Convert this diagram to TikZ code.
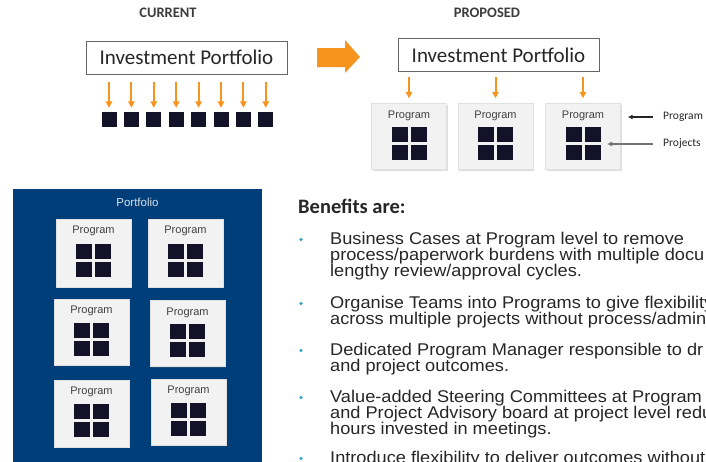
\documentclass[tikz,border=0pt]{standalone}
\usepackage{fontspec}
\setmainfont{Liberation Sans}
\newfontfamily\calfont{Carlito}
\newfontfamily\bodyfont[FakeStretch=1.07]{Liberation Sans}
\usepackage{xcolor}
\usetikzlibrary{arrows.meta,positioning,calc,shadows}
\definecolor{orArrow}{RGB}{247,148,29}
\definecolor{projNavy}{RGB}{20,18,40}
\definecolor{cardGray}{RGB}{242,242,242}
\definecolor{panelBlue}{RGB}{0,62,122}
\definecolor{dotBlue}{RGB}{70,168,208}
\definecolor{txtGray}{RGB}{38,38,38}

\begin{document}
\begin{tikzpicture}[x=1pt,y=-1pt,
title/.style={font=\calfont\bfseries\fontsize{14.5}{16}\selectfont,text=txtGray!90},
portbox/.style={draw=black!60,line width=0.8pt,minimum width=201pt,minimum height=33pt,font=\calfont\fontsize{21}{24}\selectfont,text=txtGray},
proj/.style={fill=projNavy,minimum width=16pt,minimum height=15pt,inner sep=0pt},
card/.style={fill=cardGray,draw=black!12,minimum width=75pt,minimum height=66pt,inner sep=0pt,drop shadow={opacity=0.25,shadow xshift=1pt,shadow yshift=-1.2pt}},
cardlbl/.style={font=\fontsize{11}{13}\selectfont,text=black!75,inner sep=0pt},
orarr/.style={-{Triangle[length=6.5pt,width=6.5pt]},orArrow,line width=2pt},
sidearr/.style={-{Latex[length=5pt,width=5pt]},line width=1.3pt},
sidelbl/.style={font=\calfont\fontsize{11.5}{13}\selectfont,text=txtGray,inner sep=0pt,anchor=west},
bullet/.style={align=left,anchor=north west,inner sep=0pt,text=txtGray,font=\bodyfont\fontsize{17}{16}\selectfont}
]
\useasboundingbox (0,0) rectangle (706,461);
\clip (0,0) rectangle (706,461);

% current
\node[title] (curtitle) at (168,13) {CURRENT};
\node[portbox] (curport) at (186.5,57.5) {Investment Portfolio};
\foreach \i in {0,...,7}{
  \node[proj,minimum width=15pt] (cp\i) at (109+22.4*\i,119.5) {};
  \draw[orarr] ([yshift=-8pt]curport.south -| cp\i) -- ([yshift=4pt]cp\i.north);
}

% big arrow
\fill[orArrow] (317,48) -- (345,48) -- (345,40) -- (360,57) -- (345,73) -- (345,67) -- (317,67) -- cycle;

% proposed
\node[title] (protitle) at (487,13) {PROPOSED};
\node[portbox] (proport) at (498.5,55) {Investment Portfolio};
\node[card] (pp1) at (409,136.5) {};
\node[card] (pp2) at (495.5,136.5) {};
\node[card] (pp3) at (583,136.5) {};
\foreach \c in {pp1,pp2,pp3}
  \draw[orarr] ([yshift=-5pt]proport.south -| \c) -- ([yshift=5pt]\c.north);

% portfolio panel
\fill[panelBlue] (13,189) rectangle (262,470);
\node[font=\fontsize{11.5}{13}\selectfont,text=white!85!panelBlue] (panellbl) at (137.5,202) {Portfolio};
\node[card,minimum height=68pt] (pa) at (93.5,253) {};
\node[card,minimum height=68pt] (pb) at (185.5,253) {};
\node[card] (pc) at (91.5,332) {};
\node[card] (pd) at (187.5,333.5) {};
\node[card,minimum height=67pt] (pe) at (91.5,413.5) {};
\node[card] (pf) at (188.5,412) {};

% program labels and projects
\foreach \c in {pp1,pp2,pp3,pa,pb,pc,pd,pe,pf}{
  \node[cardlbl,below=7pt of \c.north] (\c-lbl) {Program};
  \foreach \dx/\dy/\k in {-9.5/-2/a,9.5/-2/b,-9.5/16/c,9.5/16/d}
    \node[proj] (\c-\k) at ($(\c.center)+(\dx,\dy)$) {};
}

% side labels
\node[sidelbl] (lblprog) at (663,117) {Program};
\node[sidelbl] (lblproj) at (663,144) {Projects};
\coordinate (projtip) at (607,144);
\draw[sidearr,black!85] ([xshift=-10pt]lblprog.west) -- ([xshift=7pt]pp3.east |- lblprog.west);
\draw[sidearr,black!55] ([xshift=-10pt]lblproj.west) -- (projtip);

% benefits
\node[anchor=base west,inner sep=0pt,font=\calfont\bfseries\fontsize{20.5}{22}\selectfont,text=txtGray] (benef) at (298,213) {Benefits are:};
\foreach \n/\y/\t in {
  b1/244/{Business Cases at Program level to remove\\process/paperwork burdens with multiple docu\\lengthy review/approval cycles.},
  b2/308/{Organise Teams into Programs to give flexibility\\across multiple projects without process/admin},
  b3/355/{Dedicated Program Manager responsible to dr\\and project outcomes.},
  b4/402/{Value-added Steering Committees at Program\\and Project Advisory board at project level redu\\hours invested in meetings.},
  b5/463/{Introduce flexibility to deliver outcomes without}}{
  \node[bullet] (\n) at (330,\y-12.4) {\lineskiplimit=-20pt\relax\t};
  \fill[dotBlue] (301,\y-4.5) circle (1.9pt);
}
\end{tikzpicture}
\end{document}
